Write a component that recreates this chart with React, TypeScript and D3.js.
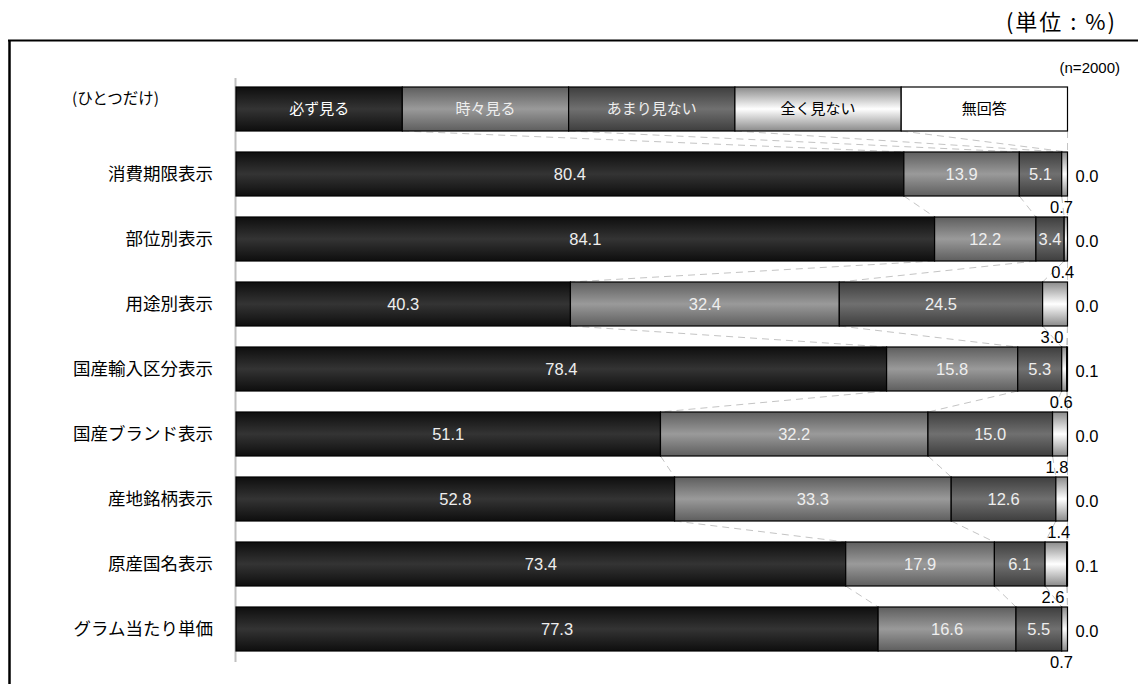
import React from "react";
import * as d3 from "d3";

const categories = ["消費期限表示", "部位別表示", "用途別表示", "国産輸入区分表示", "国産ブランド表示", "産地銘柄表示", "原産国名表示", "グラム当たり単価"];
const seriesNames = ["必ず見る", "時々見る", "あまり見ない", "全く見ない", "無回答"];
const legendValues = [20, 20, 20, 20, 20];
const always = [80.4, 84.1, 40.3, 78.4, 51.1, 52.8, 73.4, 77.3];
const sometimes = [13.9, 12.2, 32.4, 15.8, 32.2, 33.3, 17.9, 16.6];
const rarely = [5.1, 3.4, 24.5, 5.3, 15.0, 12.6, 6.1, 5.5];
const never = [0.7, 0.4, 3.0, 0.6, 1.8, 1.4, 2.6, 0.7];
const noAnswer = [0.0, 0.0, 0.0, 0.1, 0.0, 0.0, 0.1, 0.0];

const W = 1138;
const H = 684;
const LEGEND_KEY = "__legend__";

const gradStops: [string, string][] = [
  ["#0e0e0e", "#343434"],
  ["#5e5e5e", "#9a9a9a"],
  ["#3e3e3e", "#707070"],
  ["#8a8a8a", "#ffffff"],
  ["#ffffff", "#ffffff"],
];

export default function App() {
  const rows = categories.map((c, i) => [always[i], sometimes[i], rarely[i], never[i], noAnswer[i]]);
  const allRows = [legendValues, ...rows];
  const domain = [LEGEND_KEY, ...categories];

  const x = d3.scaleLinear().domain([0, 100]).range([236, 1067.5]);
  const y = d3
    .scaleBand<string>()
    .domain(domain)
    .range([76.5, 661.5])
    .paddingInner(21 / 65)
    .paddingOuter(21 / 130);
  const bw = y.bandwidth();

  const bounds = allRows.map((vals) => {
    const sum = d3.sum(vals);
    let acc = 0;
    const b = [0];
    vals.forEach((v) => {
      acc += v;
      b.push((acc / sum) * 100);
    });
    return b;
  });

  const numFont = "'Liberation Sans', Arial, sans-serif";
  const jpFont = "'Noto Sans CJK JP', sans-serif";
  const legendTextColors = ["#ffffff", "#eeeeee", "#eeeeee", "#000000", "#000000"];

  return (
    <svg width={W} height={H} style={{ position: "absolute", left: 0, top: 0, background: "#fff" }}>
      <defs>
        {gradStops.map(([edge, mid], k) => (
          <linearGradient key={k} id={`g${k}`} x1="0" y1="0" x2="0" y2="1">
            <stop offset="0%" stopColor={edge} />
            <stop offset="50%" stopColor={mid} />
            <stop offset="100%" stopColor={edge} />
          </linearGradient>
        ))}
      </defs>

      <line x1={8} x2={W} y1={40.5} y2={40.5} stroke="#000" strokeWidth={2} />
      <line x1={9.5} x2={9.5} y1={40} y2={H} stroke="#000" strokeWidth={2.5} />

      <text x={1117} y={30} textAnchor="end" fontFamily={jpFont} fontSize={22} letterSpacing={2} fill="#000">
        (単位 : %)
      </text>
      <text x={1120} y={73} textAnchor="end" fontFamily={numFont} fontSize={15} fill="#000">
        (n=2000)
      </text>
      <text x={72} y={104} fontFamily={jpFont} fontSize={15.5} fill="#000">
        (ひとつだけ)
      </text>

      <line x1={235.5} x2={235.5} y1={78} y2={662} stroke="#c0c0c0" strokeWidth={2} />

      {bounds.slice(0, -1).map((b, i) => {
        const nb = bounds[i + 1];
        const y0 = (y(domain[i]) as number) + bw;
        const y1 = y(domain[i + 1]) as number;
        return b.slice(1).map((v, k) => (
          <line
            key={`sl${i}-${k}`}
            x1={x(v)}
            x2={x(nb[k + 1])}
            y1={y0}
            y2={y1}
            stroke="#c4c4c4"
            strokeWidth={1}
            strokeDasharray="7,5"
          />
        ));
      })}

      {allRows.map((vals, i) => {
        const b = bounds[i];
        const yy = y(domain[i]) as number;
        return (
          <g key={`row${i}`}>
            {vals.map((v, k) => {
              const w = x(b[k + 1]) - x(b[k]);
              if (w <= 0.05) return null;
              return (
                <rect
                  key={k}
                  x={x(b[k])}
                  y={yy}
                  width={w}
                  height={bw}
                  fill={`url(#g${k})`}
                  stroke="#000"
                  strokeWidth={1.2}
                />
              );
            })}
          </g>
        );
      })}

      {seriesNames.map((s, k) => {
        const b = bounds[0];
        const cx = (x(b[k]) + x(b[k + 1])) / 2;
        const cy = (y(LEGEND_KEY) as number) + bw / 2;
        return (
          <text
            key={`lg${k}`}
            x={cx}
            y={cy}
            dy="0.36em"
            textAnchor="middle"
            fontFamily={jpFont}
            fontSize={15}
            fill={legendTextColors[k]}
          >
            {s}
          </text>
        );
      })}

      {categories.map((c) => (
        <text
          key={`cat${c}`}
          x={213}
          y={(y(c) as number) + bw / 2}
          dy="0.36em"
          textAnchor="end"
          fontFamily={jpFont}
          fontSize={17.5}
          fill="#000"
        >
          {c}
        </text>
      ))}

      {rows.map((vals, ri) => {
        const b = bounds[ri + 1];
        const yy = y(categories[ri]) as number;
        const cy = yy + bw / 2;
        return (
          <g key={`vl${ri}`} fontFamily={numFont} fontSize={16.5}>
            {[0, 1, 2].map((k) => (
              <text
                key={k}
                x={(x(b[k]) + x(b[k + 1])) / 2}
                y={cy}
                dy="0.36em"
                textAnchor="middle"
                fill="#eeeeee"
              >
                {vals[k].toFixed(1)}
              </text>
            ))}
            <text
              x={(x(b[3]) + x(b[4])) / 2 - 3}
              y={yy + bw + 11}
              dy="0.36em"
              textAnchor="middle"
              fill="#000"
            >
              {vals[3].toFixed(1)}
            </text>
            <text x={x(100) + 8} y={cy + 2} dy="0.36em" textAnchor="start" fill="#000">
              {vals[4].toFixed(1)}
            </text>
          </g>
        );
      })}
    </svg>
  );
}
